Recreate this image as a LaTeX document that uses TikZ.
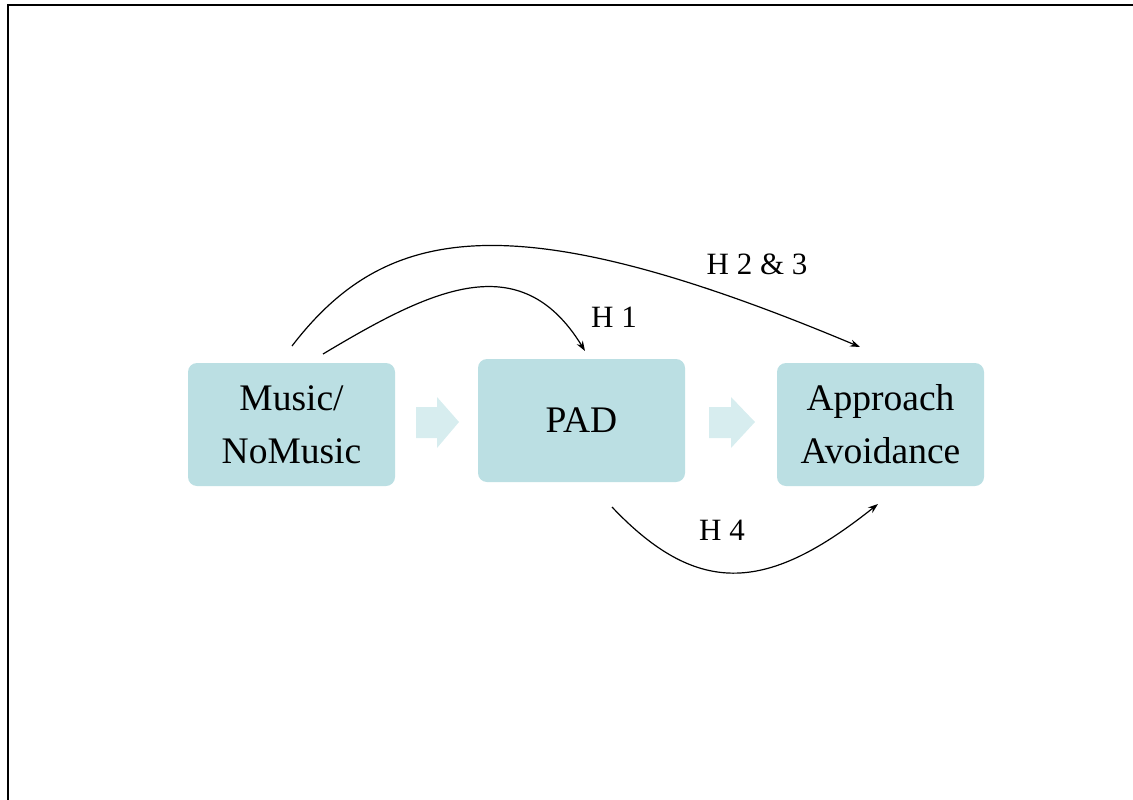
\documentclass[tikz,border=0pt]{standalone}
\usepackage{fontspec}
\setmainfont{Liberation Serif}
\usetikzlibrary{arrows.meta}
\definecolor{boxfill}{HTML}{BBDFE3}
\definecolor{fatfill}{HTML}{D7EDEF}
\begin{document}
\begin{tikzpicture}[x=1pt,y=-1pt,
  boxnode/.style={fill=boxfill,rounded corners=9pt,minimum width=207pt,minimum height=123pt,inner sep=0pt,align=center,font=\fontsize{37.5}{53}\selectfont},
  hlabel/.style={font=\fontsize{31}{36}\selectfont,inner sep=0pt},
  conn/.style={line width=1.2pt,-{Stealth[length=10pt,width=7pt]}},
  fatarrow/.style={fill=fatfill,draw=none}]
\useasboundingbox (0,0) rectangle (1133,800);
\draw[line width=2.5pt] (8,800) -- (8,5) -- (1133,5);
\node[boxnode] (music) at (291.5,424.5) {Music/\\NoMusic};
\node[boxnode] (pad) at (581.5,420.5) {PAD};
\node[boxnode] (aa) at (880.5,424.5) {Approach\\Avoidance};
\fill[fatfill] (416,407) -- (437,407) -- (437,397) -- (459,422) -- (437,448) -- (437,438) -- (416,438) -- cycle;
\fill[fatfill] (709,407) -- (731,407) -- (731,397) -- (755,422) -- (731,448) -- (731,438) -- (709,438) -- cycle;
\coordinate (s1) at (323,354);
\coordinate (e1) at (585,351);
\coordinate (s2) at (292,346);
\coordinate (e2) at (860,347);
\coordinate (s4) at (612,507);
\coordinate (e4) at (878,504);
\draw[conn] (s1) .. controls (430,290) and (520,245) .. (e1);
\draw[conn] (s2) .. controls (385,225) and (510,200) .. (e2);
\draw[conn] (s4) .. controls (700,600) and (770,590) .. (e4);
\node[hlabel] (h1) at (614,317) {H 1};
\node[hlabel] (h23) at (757,264) {H 2 \& 3};
\node[hlabel] (h4) at (722,530) {H 4};
\end{tikzpicture}
\end{document}
